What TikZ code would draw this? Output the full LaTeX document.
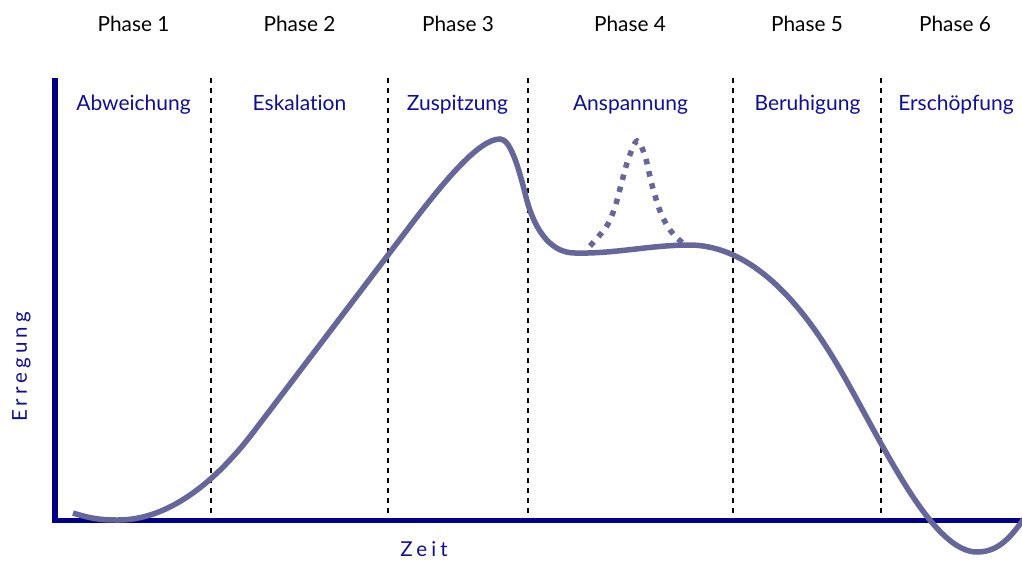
\documentclass[tikz,border=0pt]{standalone}
\usepackage{fontspec}
\setmainfont[Ligatures={NoCommon}]{Lato}
\newfontfamily\spacedfont[LetterSpace=20]{Lato}
\definecolor{axisnavy}{RGB}{0,0,128}
\definecolor{labelnavy}{RGB}{16,16,140}
\definecolor{curvecol}{RGB}{102,102,153}
\begin{document}
\begin{tikzpicture}[x=1pt,y=-1pt,
  phaselabel/.style={font=\fontsize{20.8}{24}\selectfont, text=black, anchor=base, inner sep=0pt},
  stagelabel/.style={font=\fontsize{21}{24}\selectfont, text=labelnavy, anchor=base, inner sep=0pt},
  axislabel/.style={font=\fontsize{20.5}{24}\selectfont\spacedfont, text=labelnavy, anchor=base, inner sep=0pt},
  divider/.style={black, line width=2pt, dash pattern=on 5pt off 5pt},
  axisline/.style={axisnavy, line width=6pt},
  curve/.style={curvecol, line width=5.5pt},
  peakcurve/.style={curvecol, line width=5.5pt, dash pattern=on 5.5pt off 7pt}]
\useasboundingbox (0,0) rectangle (1022,560);

% phase dividers
\foreach \px/\nm in {211/d1,388/d2,528/d3,733/d4,881/d5}{
  \coordinate (\nm top) at (\px,78);
  \coordinate (\nm bot) at (\px,518);
  \draw[divider] (\nm top) -- (\nm bot);
}

% axes
\coordinate (ytop) at (55,78);
\coordinate (ybot) at (55,523);
\coordinate (xleft) at (52,520.5);
\coordinate (xright) at (1022,520.5);
\draw[axisline] (ytop) -- (ybot);
\draw[axisnavy, line width=5.5pt] (xleft) -- (xright);

% phase labels
\node[phaselabel] (p1) at (133.5,31) {Phase 1};
\node[phaselabel] (p2) at (299.5,31) {Phase 2};
\node[phaselabel] (p3) at (458,31) {Phase 3};
\node[phaselabel] (p4) at (630,31) {Phase 4};
\node[phaselabel] (p5) at (807,31) {Phase 5};
\node[phaselabel] (p6) at (955,31) {Phase 6};

% stage labels
\node[stagelabel] (s1) at (133.5,110) {Abweichung};
\node[stagelabel] (s2) at (299.5,110) {Eskalation};
\node[stagelabel] (s3) at (457.5,110) {Zuspitzung};
\node[stagelabel] (s4) at (630.5,110) {Anspannung};
\node[stagelabel] (s5) at (807.5,110) {Beruhigung};
\node[stagelabel] (s6) at (956,110) {Erschöpfung};

% axis labels
\node[axislabel, rotate=90] (ylab) at (27,367) {Erregung};
\node[axislabel] (xlab) at (424,556) {Zeit};

% arousal curve
\draw[curve] (73,513) .. controls (92,519) and (102,520) .. (118,520)
  .. controls (168,520) and (215,483) .. (255,430)
  -- (407,230)
  .. controls (447,177) and (480,139) .. (500,139)
  .. controls (510,139) and (518,165) .. (526,197)
  .. controls (533,225) and (548,253) .. (575,253)
  .. controls (615,254) and (650,245) .. (690,245)
  .. controls (770,246) and (825,342) .. (850,387)
  .. controls (890,459) and (935,552) .. (977,552)
  .. controls (1000,552) and (1012,535) .. (1026,516);

% dotted peak
\draw[peakcurve] plot[smooth, tension=0.55] coordinates {(590,246) (599,236) (608,224) (615,207) (621,185) (628,160) (637,141) (645,156) (652,185) (660,211) (668,227) (676,237) (684,244)};
\end{tikzpicture}
\end{document}
